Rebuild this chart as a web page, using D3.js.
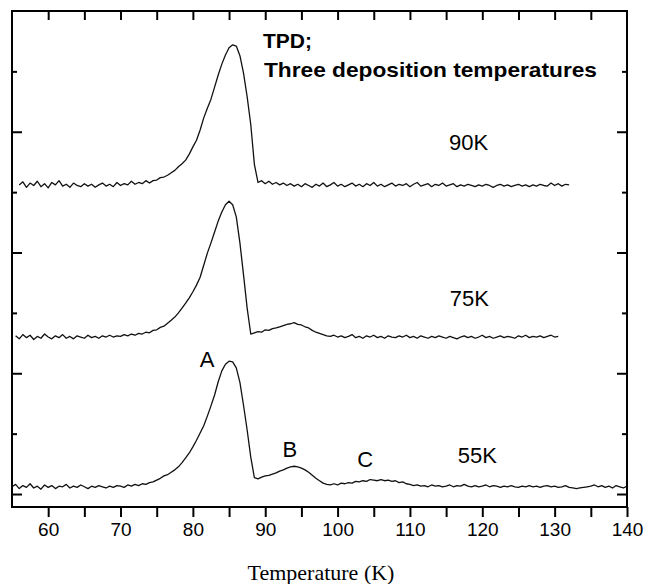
<!DOCTYPE html>
<html><head><meta charset="utf-8">
<script src="https://cdn.jsdelivr.net/npm/d3@7"></script>
<style>html,body{margin:0;padding:0;background:#fff;}svg{display:block;}</style>
</head><body>
<svg id="chart" width="645" height="584"></svg>
<script>
// ---- DATA ----
const temperature = [
55,55.5,56,56.5,57,57.5,58,58.5,59,59.5,60,60.5,61,61.5,62,62.5,63,63.5,64,64.5,
65,65.5,66,66.5,67,67.5,68,68.5,69,69.5,70,70.5,71,71.5,72,72.5,73,73.5,74,74.5,
75,75.5,76,76.5,77,77.5,78,78.5,79,79.5,80,80.5,81,81.5,82,82.5,83,83.5,84,84.5,
85,85.5,86,86.5,87,87.5,88,88.5,89,89.5,90,90.5,91,91.5,92,92.5,93,93.5,94,94.5,
95,95.5,96,96.5,97,97.5,98,98.5,99,99.5,100,100.5,101,101.5,102,102.5,103,103.5,104,104.5,
105,105.5,106,106.5,107,107.5,108,108.5,109,109.5,110,110.5,111,111.5,112,112.5,113,113.5,114,114.5,
115,115.5,116,116.5,117,117.5,118,118.5,119,119.5,120,120.5,121,121.5,122,122.5,123,123.5,124,124.5,
125,125.5,126,126.5,127,127.5,128,128.5,129,129.5,130,130.5,131,131.5,132,132.5,133,133.5,134,134.5,
135,135.5,136,136.5,137,137.5,138,138.5,139,139.5,140];

const signal90K = [
null,null,5.12,5.17,5.08,5.15,5.11,5.18,5.09,5.14,5.07,5.16,5.12,5.19,5.10,5.13,5.08,5.15,5.11,5.09,
5.14,5.10,5.13,5.08,5.12,5.15,5.10,5.13,5.09,5.16,5.11,5.14,5.12,5.18,5.13,5.16,5.14,5.19,5.15,5.19,
5.20,5.24,5.25,5.28,5.32,5.36,5.42,5.47,5.53,5.63,5.75,5.86,6.03,6.23,6.39,6.54,6.74,6.94,7.12,7.27,
7.39,7.44,7.42,7.26,6.97,6.58,6.12,5.46,5.16,5.19,5.14,5.18,5.13,5.16,5.12,5.15,5.11,5.14,5.10,5.13,
5.09,5.14,5.11,5.08,5.13,5.10,5.15,5.09,5.12,5.16,5.10,5.13,5.09,5.12,5.15,5.10,5.13,5.09,5.14,5.11,
5.16,5.10,5.13,5.09,5.12,5.15,5.10,5.13,5.11,5.14,5.09,5.13,5.16,5.10,5.12,5.14,5.09,5.13,5.11,5.15,
5.10,5.12,5.14,5.09,5.12,5.10,5.13,5.11,5.09,5.12,5.10,5.13,5.11,5.08,5.11,5.13,5.10,5.12,5.09,5.11,
5.13,5.10,5.12,5.09,5.12,5.10,5.13,5.11,5.10,5.15,5.11,5.14,5.10,5.13,5.12,null,null,null,null,null,
null,null,null,null,null,null,null,null,null,null,null];

const signal75K = [
null,2.62,2.57,2.64,2.59,2.63,2.56,2.61,2.58,2.65,2.60,2.57,2.62,2.59,2.64,2.58,2.61,2.57,2.62,2.60,
2.58,2.63,2.59,2.61,2.58,2.62,2.60,2.63,2.60,2.62,2.61,2.64,2.62,2.65,2.63,2.66,2.65,2.68,2.67,2.71,
2.72,2.76,2.78,2.83,2.88,2.93,3.00,3.08,3.16,3.25,3.35,3.46,3.59,3.79,3.99,4.16,4.34,4.52,4.67,4.79,
4.85,4.79,4.59,4.16,3.63,3.08,2.65,2.67,2.69,2.68,2.72,2.71,2.74,2.75,2.77,2.79,2.81,2.82,2.84,2.81,
2.80,2.77,2.75,2.71,2.68,2.66,2.64,2.62,2.61,2.63,2.60,2.62,2.59,2.61,2.64,2.59,2.61,2.58,2.62,2.60,
2.63,2.59,2.61,2.58,2.62,2.60,2.59,2.62,2.60,2.63,2.59,2.61,2.58,2.62,2.60,2.58,2.61,2.59,2.62,2.60,
2.58,2.61,2.59,2.57,2.60,2.62,2.59,2.61,2.58,2.60,2.63,2.59,2.61,2.58,2.60,2.62,2.59,2.61,2.60,2.58,
2.62,2.60,2.63,2.59,2.61,2.60,2.62,2.59,2.61,2.63,2.60,2.61,null,null,null,null,null,null,null,null,
null,null,null,null,null,null,null,null,null,null,null];

const signal55K = [
0.12,0.16,0.09,0.14,0.11,0.17,0.10,0.13,0.08,0.15,0.11,0.14,0.09,0.13,0.12,0.16,0.10,0.13,0.11,0.15,
0.12,0.09,0.13,0.11,0.14,0.12,0.10,0.13,0.11,0.14,0.13,0.11,0.15,0.13,0.16,0.14,0.17,0.16,0.19,0.20,
0.23,0.26,0.30,0.32,0.36,0.40,0.45,0.52,0.60,0.68,0.78,0.89,1.01,1.13,1.29,1.46,1.64,1.86,2.04,2.15,
2.20,2.19,2.09,1.85,1.47,1.06,0.61,0.27,0.25,0.28,0.30,0.31,0.33,0.35,0.38,0.40,0.43,0.45,0.46,0.45,
0.43,0.40,0.36,0.31,0.26,0.22,0.18,0.16,0.15,0.17,0.15,0.18,0.17,0.19,0.18,0.21,0.20,0.22,0.21,0.24,
0.23,0.22,0.24,0.22,0.23,0.21,0.22,0.19,0.20,0.17,0.16,0.14,0.15,0.13,0.14,0.12,0.15,0.13,0.14,0.12,
0.13,0.15,0.12,0.14,0.13,0.16,0.13,0.12,0.14,0.12,0.13,0.15,0.12,0.14,0.13,0.11,0.13,0.12,0.14,0.12,
0.11,0.13,0.12,0.14,0.12,0.13,0.11,0.13,0.14,0.12,0.13,0.11,0.12,0.14,0.11,0.10,0.09,0.10,0.11,0.12,
0.13,0.15,0.12,0.14,0.11,0.13,0.10,0.14,0.12,0.10,0.13];

const seriesNames = ["90K", "75K", "55K"];
const xTickLabels = [60, 70, 80, 90, 100, 110, 120, 130, 140];
const xMinorTicks = [60, 65, 70, 75, 80, 85, 90, 95, 100, 105, 110, 115, 120, 125, 130, 135, 140];
const yTicks = [0, 1, 2, 3, 4, 5, 6, 7];
const peakLabels = ["A", "B", "C"];
const peakLabelT = [81.95, 93.4, 103.8];
const peakLabelY = [2.10, 0.61, 0.45];
const seriesLabelT = [115.4, 115.5, 116.6];
const seriesLabelY = [5.70, 3.11, 0.51];
const titleLines = ["TPD;", "Three deposition temperatures"];
const xAxisTitle = "Temperature (K)";

// ---- CHART ----
const svg = d3.select("#chart");
const L = 12, R = 627, T = 11, B = 507;
const x = d3.scaleLinear().domain([55, 140]).range([L, R]);
const y = d3.scaleLinear().domain([-0.215, 8]).range([B, T]);

const series = [signal90K, signal75K, signal55K];
const line = d3.line()
  .defined(d => d[1] != null)
  .x(d => x(d[0])).y(d => y(d[1]));

series.forEach(s => {
  svg.append("path")
    .datum(temperature.map((t, i) => [t, s[i]]))
    .attr("fill", "none").attr("stroke", "#111")
    .attr("stroke-width", 1.3).attr("stroke-linejoin", "round")
    .attr("d", line);
});

// frame
svg.append("rect").attr("x", L).attr("y", T).attr("width", R - L).attr("height", B - T)
  .attr("fill", "none").attr("stroke", "#000").attr("stroke-width", 2);

const axisFont = "'Liberation Sans', Arial, sans-serif";

// bottom axis
const gB = svg.append("g").attr("transform", `translate(0,${B})`)
  .call(d3.axisBottom(x).tickValues(xMinorTicks).tickSize(10).tickSizeOuter(0)
    .tickFormat(d => xTickLabels.includes(d) ? d : ""));
gB.select(".domain").remove();
gB.selectAll("line").attr("stroke", "#000").attr("stroke-width", 2);
gB.selectAll("text").attr("font-family", axisFont).attr("font-size", 19)
  .attr("fill", "#000").attr("dy", "0.71em").attr("y", 16);

// top axis (inward)
const gT = svg.append("g").attr("transform", `translate(0,${T})`)
  .call(d3.axisBottom(x).tickValues(xMinorTicks.filter(d => d < 140)).tickSize(9).tickFormat(""));
gT.select(".domain").remove();
gT.selectAll("line").attr("stroke", "#000").attr("stroke-width", 2);

// left axis (inward)
const gL = svg.append("g").attr("transform", `translate(${L},0)`)
  .call(d3.axisRight(y).tickValues(yTicks).tickFormat(""));
gL.select(".domain").remove();
gL.selectAll("line").attr("stroke", "#000").attr("stroke-width", 2)
  .attr("x2", d => d % 2 === 0 ? 10 : 5);

// right axis (inward)
const gR = svg.append("g").attr("transform", `translate(${R},0)`)
  .call(d3.axisLeft(y).tickValues(yTicks).tickFormat(""));
gR.select(".domain").remove();
gR.selectAll("line").attr("stroke", "#000").attr("stroke-width", 2)
  .attr("x2", d => d % 2 === 0 ? -10 : -5);

// title
svg.append("text").attr("x", 263).attr("y", 48)
  .attr("font-family", axisFont).attr("font-weight", "bold").attr("font-size", 21)
  .attr("fill", "#000").text(titleLines[0]);
svg.append("text").attr("x", 264).attr("y", 77)
  .attr("font-family", axisFont).attr("font-weight", "bold").attr("font-size", 21)
  .attr("textLength", 333).attr("lengthAdjust", "spacingAndGlyphs")
  .attr("fill", "#000").text(titleLines[1]);

// series labels
seriesNames.forEach((n, i) => {
  svg.append("text").attr("x", x(seriesLabelT[i])).attr("y", y(seriesLabelY[i]))
    .attr("font-family", axisFont).attr("font-size", 22).attr("fill", "#000")
    .attr("text-anchor", "start").text(n);
});
// peak labels
peakLabels.forEach((n, i) => {
  svg.append("text").attr("x", x(peakLabelT[i])).attr("y", y(peakLabelY[i]))
    .attr("font-family", axisFont).attr("font-size", 22).attr("fill", "#000")
    .attr("text-anchor", "middle").text(n);
});

// x axis title
svg.append("text").attr("x", 321).attr("y", 580).attr("text-anchor", "middle")
  .attr("font-family", "'Liberation Serif', 'Times New Roman', serif").attr("font-size", 22)
  .attr("fill", "#000").text(xAxisTitle);
</script>
</body></html>
